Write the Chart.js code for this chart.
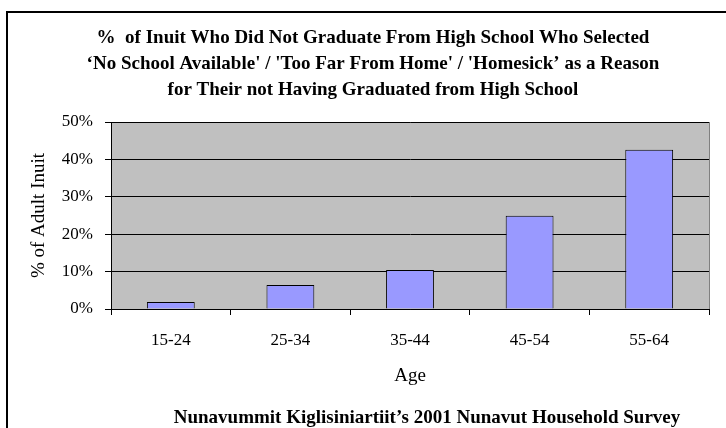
<!DOCTYPE html>
<html>
<head>
<meta charset="utf-8">
<script src="https://cdn.jsdelivr.net/npm/chart.js@4/dist/chart.umd.min.js"></script>
<style>
  html, body { margin: 0; padding: 0; background: #ffffff; }
  #wrap { position: relative; width: 726px; height: 428px; }
</style>
</head>
<body>
<div id="wrap"><canvas id="chart" width="726" height="428"></canvas></div>
<script>
// Age groups and the share (%) of adult Inuit non-graduates citing these reasons
const ageGroups = ['15-24', '25-34', '35-44', '45-54', '55-64'];
const pctSelected = [1.9, 6.4, 10.4, 24.9, 42.6];
const yTickValues = [0, 10, 20, 30, 40, 50];

const titleLines = [
  '%  of Inuit Who Did Not Graduate From High School Who Selected',
  '\u2018No School Available\' / \'Too Far From Home\' / \'Homesick\u2019 as a Reason',
  'for Their not Having Graduated from High School'
];
const yAxisTitle = '% of Adult Inuit';
const xAxisTitle = 'Age';
const sourceNote = 'Nunavummit Kiglisiniartiit\u2019s 2001 Nunavut Household Survey';

const SERIF = "'Liberation Serif', 'Times New Roman', serif";

// White page, outer frame lines, grey plot background and grey plot frame
const framePlugin = {
  id: 'frames',
  beforeDraw(chart) {
    const { ctx, chartArea: a } = chart;
    ctx.save();
    ctx.fillStyle = '#ffffff';
    ctx.fillRect(0, 0, chart.width, chart.height);
    ctx.strokeStyle = '#000000';
    ctx.lineWidth = 2;
    ctx.beginPath();
    ctx.moveTo(7, chart.height);
    ctx.lineTo(7, 12);
    ctx.lineTo(chart.width, 12);
    ctx.stroke();
    ctx.fillStyle = '#C0C0C0';
    ctx.fillRect(a.left, a.top, a.right - a.left, a.bottom - a.top);
    ctx.strokeStyle = '#808080';
    ctx.lineWidth = 1;
    ctx.strokeRect(Math.round(a.left) + 0.5, Math.round(a.top) + 0.5,
                   Math.round(a.right - a.left), Math.round(a.bottom - a.top));
    ctx.restore();
  }
};

// Bold heading above the plot and the source line beneath it
const headingPlugin = {
  id: 'headings',
  afterDraw(chart) {
    const { ctx } = chart;
    ctx.save();
    ctx.fillStyle = '#000000';
    ctx.textAlign = 'center';
    ctx.textBaseline = 'middle';
    ctx.font = 'bold 19px ' + SERIF;
    titleLines.forEach((line, i) => ctx.fillText(line, 373, 38 + i * 26));
    ctx.fillText(sourceNote, 427, 418);
    ctx.restore();
  }
};

new Chart(document.getElementById('chart'), {
  type: 'bar',
  data: {
    labels: ageGroups,
    datasets: [{
      data: pctSelected,
      backgroundColor: '#9999FF',
      borderColor: '#000000',
      borderWidth: 1,
      categoryPercentage: 1,
      barPercentage: 0.4
    }]
  },
  options: {
    responsive: false,
    animation: false,
    layout: { padding: { left: 0, right: 17, top: 122, bottom: 0 } },
    plugins: {
      legend: { display: false },
      tooltip: { enabled: false },
      title: { display: false }
    },
    scales: {
      x: {
        afterFit(scale) { scale.height = 119; },
        grid: {
          offset: true,
          drawOnChartArea: false,
          drawTicks: true,
          tickLength: 6,
          color: '#000000'
        },
        border: { display: true, color: '#000000', width: 1 },
        ticks: {
          color: '#000000',
          padding: 15,
          font: { family: SERIF, size: 17 }
        },
        title: {
          display: true,
          text: xAxisTitle,
          color: '#000000',
          font: { family: SERIF, size: 19 },
          padding: { top: 0, bottom: 41 }
        }
      },
      y: {
        min: 0,
        max: 50,
        afterFit(scale) { scale.width = 111; },
        afterBuildTicks(scale) { scale.ticks = yTickValues.map(v => ({ value: v })); },
        grid: {
          color: '#000000',
          lineWidth: 1,
          drawTicks: true,
          tickLength: 6
        },
        border: { display: true, color: '#000000', width: 1 },
        ticks: {
          color: '#000000',
          padding: 12,
          font: { family: SERIF, size: 17 },
          callback: v => v + '%'
        },
        title: {
          display: true,
          text: yAxisTitle,
          color: '#000000',
          font: { family: SERIF, size: 19 },
          padding: { top: 28, bottom: 0 }
        }
      }
    }
  },
  plugins: [framePlugin, headingPlugin]
});
</script>
</body>
</html>
